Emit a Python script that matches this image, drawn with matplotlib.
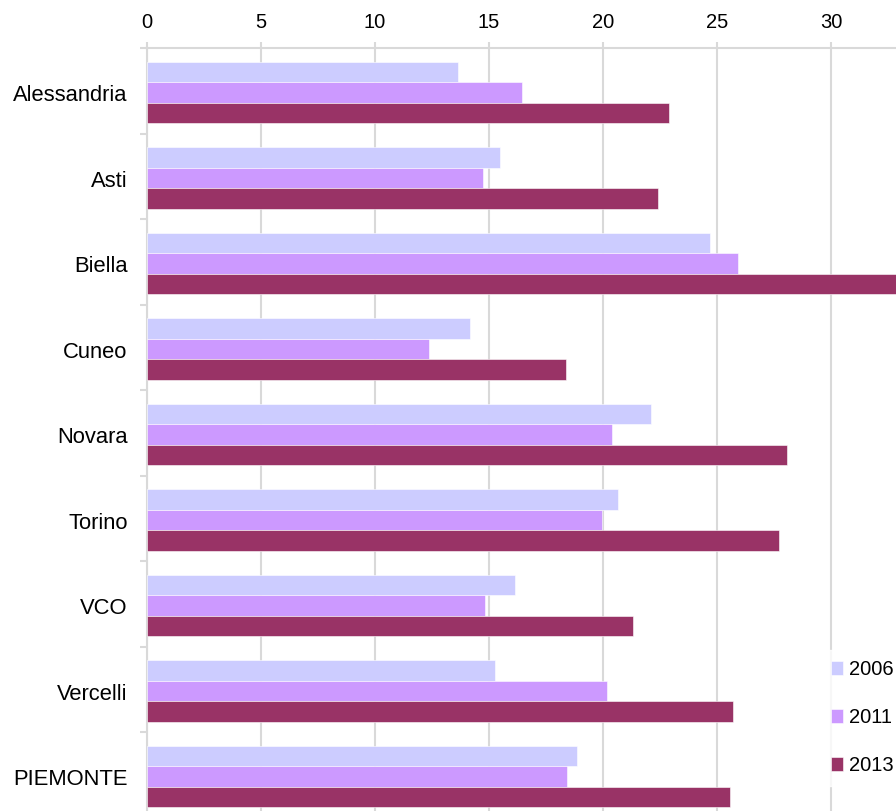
import numpy as np
import matplotlib.pyplot as plt

plt.rcParams['font.family'] = ['Liberation Sans', 'DejaVu Sans']

province = ['Alessandria', 'Asti', 'Biella', 'Cuneo', 'Novara', 'Torino',
            'VCO', 'Vercelli', 'PIEMONTE']
v2006 = [13.64, 15.48, 24.69, 14.17, 22.10, 20.64, 16.14, 15.26, 18.87]
v2011 = [16.45, 14.74, 25.94, 12.38, 20.41, 19.97, 14.82, 20.19, 18.42]
v2013 = [22.91, 22.40, 33.60, 18.36, 28.07, 27.70, 21.30, 25.72, 25.57]
anni = ['2006', '2011', '2013']
colori = ['#CCCCFF', '#CC99FF', '#993366']

W, H = 896, 811
fig = plt.figure(figsize=(W / 100, H / 100), dpi=100)
# plot area runs past the right and bottom edges of the picture
left, top = 147, 48
ax = fig.add_axes([left / W, (H - top - 769.5) / H, 798 / W, 769.5 / H])

y = np.arange(len(province))
h = 0.24
for i, (vals, c, lab) in enumerate(zip([v2006, v2011, v2013], colori, anni)):
    ax.barh(y + (i - 1) * h + 0.02, vals, height=h, color=c, label=lab,
            edgecolor='white', linewidth=0.4, zorder=3)

ax.set_xlim(0, 35)
ax.set_ylim(len(province) - 0.5, -0.5)
ax.set_xticks(np.arange(0, 31, 5))
ax.xaxis.tick_top()
ax.grid(axis='x', color='#D9D9D9', linewidth=1.5, zorder=0)
ax.set_yticks(y + 0.03)
ax.set_yticklabels(province)
ax.set_yticks(np.arange(len(province) + 1) - 0.5, minor=True)
ax.tick_params(axis='y', which='major', length=0, pad=14, labelsize=15.8)
ax.tick_params(axis='y', which='minor', length=5, color='#D9D9D9', width=1.5)
ax.tick_params(axis='x', length=4.5, color='#D9D9D9', width=1.5, pad=7,
               labelsize=14.5)
for s in ['right', 'bottom']:
    ax.spines[s].set_visible(False)
for s in ['top', 'left']:
    ax.spines[s].set_color('#D9D9D9')
    ax.spines[s].set_linewidth(1.5)

leg = ax.legend(loc='upper left', bbox_to_anchor=(821 / W, 1 - 650 / H),
                bbox_transform=fig.transFigure, frameon=True, fontsize=14.5,
                handlelength=0.6, handleheight=0.7, handletextpad=0.3,
                labelspacing=1.45, borderpad=0.5, borderaxespad=0,
                fancybox=False)
leg.get_frame().set_edgecolor('white')
leg.get_frame().set_facecolor('white')
leg.set_zorder(5)

fig.savefig('out.png', dpi=100)
